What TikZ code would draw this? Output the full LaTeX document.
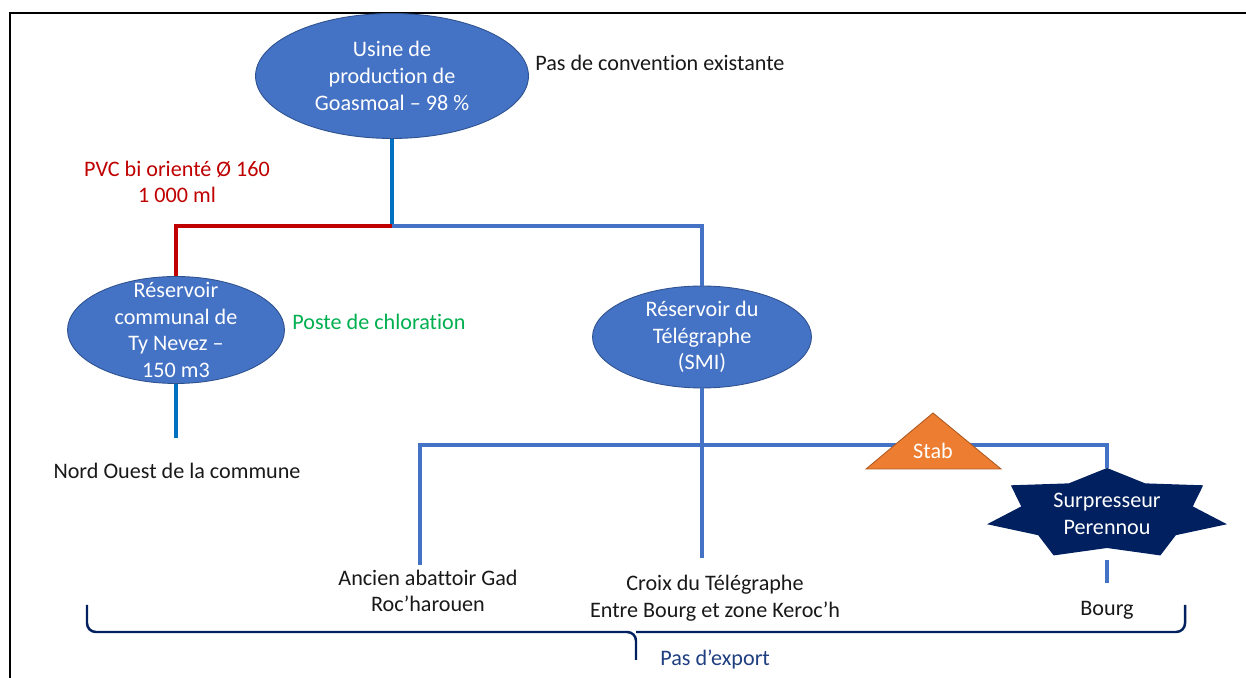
\documentclass[tikz,border=0pt]{standalone}
\usepackage{fontspec}
\setmainfont[Ligatures=NoCommon]{Carlito}
\usetikzlibrary{positioning,shapes.geometric}

\definecolor{tankblue}{HTML}{4472C4}
\definecolor{tankedge}{HTML}{2F528F}
\definecolor{pipeblue}{HTML}{4472C4}
\definecolor{feedblue}{HTML}{0070C0}
\definecolor{pvcred}{HTML}{C00000}
\definecolor{chlgreen}{HTML}{00B050}
\definecolor{staborange}{HTML}{ED7D31}
\definecolor{stabedge}{HTML}{AE5A21}
\definecolor{pumpnavy}{HTML}{002060}
\definecolor{exportblue}{HTML}{1F3F80}

\begin{document}
\begin{tikzpicture}[x=0.02cm, y=0.02cm,
    every node/.style={font=\fontsize{12.6}{15.2}\selectfont, inner sep=0pt},
    tank/.style={ellipse, fill=tankblue, draw=tankedge, line width=0.5pt},
    tanktext/.style={text=white, align=center},
    pipe/.style={line width=2.8pt, draw=pipeblue},
    feed/.style={line width=2.8pt, draw=feedblue},
    pvc/.style={line width=2.8pt, draw=pvcred},
    place/.style={align=center, text=black!90}]
    \fill[white] (0,0) rectangle (1246,678);
    \useasboundingbox (0,0) rectangle (1246,678);
    \draw[line width=1.2pt] (10,0) -- (10,665) -- (1246,665);

    \node[tank, minimum width=5.46cm, minimum height=2.5cm,
        label={[tanktext]center:{Usine de\\production de\\Goasmoal – 98 \%}}] at (392, 602)(usine){};
    \node[tank, minimum width=4.34cm, minimum height=2.14cm,
        label={[tanktext]center:{Réservoir\\communal de\\Ty Nevez –\\150 m3}}] at (176, 348)(tyn){};
    \node[tank, minimum width=4.38cm, minimum height=2.04cm,
        label={[tanktext]center:{Réservoir du\\Télégraphe\\(SMI)}}] at (702, 341)(tel){};

    \node[anchor=west, text=black!90] at (535, 615)(conv){Pas de convention existante};
    \node[align=center, text=pvcred] at (177, 496)(pvctext){PVC bi orienté Ø 160\\1 000 ml};
    \node[anchor=west, text=chlgreen] at (292, 356)(chlor){Poste de chloration};
    \node[place] at (177, 207)(nord){Nord Ouest de la commune};
    \node[place] at (428, 87)(abat){Ancien abattoir Gad\\Roc’harouen};
    \node[place] at (715, 80)(croix){Croix du Télégraphe\\Entre Bourg et zone Keroc’h};
    \node[place] at (1107, 68)(bourg){Bourg};
    \node[anchor=west, text=exportblue] at (660, 19)(export){Pas d’export};

    \coordinate (j1) at (392, 452);
    \coordinate (j2) at (420, 233);
    \coordinate (nordend) at (176, 240);
    \coordinate (abatend) at (420, 113);
    \coordinate (croixend) at (702, 120);
    \coordinate (bourgend) at (1107, 95);
    \coordinate (surpc) at (1107, 164);

    \fill[pumpnavy, shift={(surpc)}] (90:123 and 46)
        \foreach \k in {1,...,7} {-- ({90+(2*\k-1)*180/7}:88 and 34) -- ({90+\k*360/7}:123 and 46)} -- cycle;
    \node[minimum height=1.84cm, text=white, align=center] at (surpc)(surp){Surpresseur\\Perennou};

    \draw[feed] (usine) -- (j1);
    \draw[pvc] (j1) -- (tyn |- j1) -- (tyn);
    \draw[pipe] (j1) -- (tel |- j1) -- (tel);
    \draw[feed] (tyn) -- (nordend);
    \draw[pipe] (tel) -- (croixend);
    \draw[pipe] (abatend) -- (j2) -- (j2 -| surp) -- (surp.north);
    \draw[pipe] (surp.south) -- (bourgend);

    \filldraw[fill=staborange, draw=stabedge, line width=0.5pt] (866, 209) -- (1001, 209) -- (933, 265) -- cycle;
    \node[text=white] at (933, 227)(stab){Stab};

    \draw[pumpnavy, line width=1.4pt, rounded corners=5pt]
        (87, 73) -- (87, 46) -- (636, 46) -- (636, 18)
        (1185, 73) -- (1185, 46) -- (636, 46);
\end{tikzpicture}
\end{document}
